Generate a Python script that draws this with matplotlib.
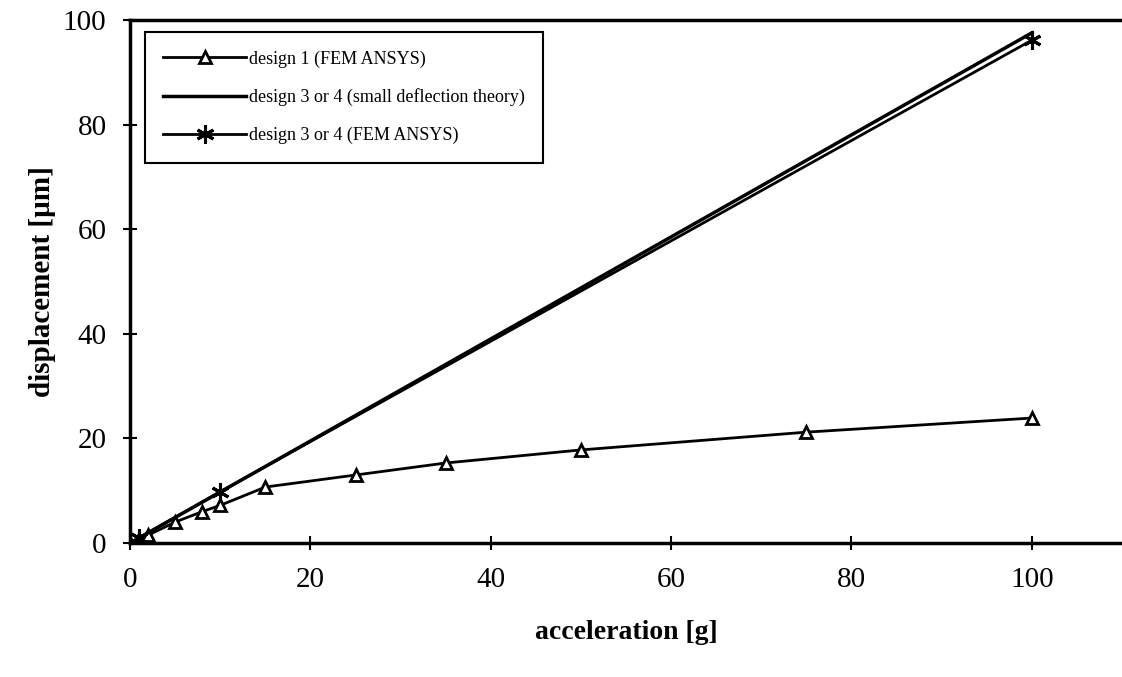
import matplotlib
matplotlib.use("Agg")
import matplotlib.pyplot as plt

# design 1 (FEM ANSYS)
accel_d1 = [0, 1, 2, 5, 8, 10, 15, 25, 35, 50, 75, 100]
disp_d1 = [0, 0.8, 1.5, 4.0, 6.0, 7.2, 10.7, 13.0, 15.3, 17.8, 21.2, 23.9]

# design 3 or 4 (small deflection theory)
accel_theory = [0, 100]
disp_theory = [0, 97.6]

# design 3 or 4 (FEM ANSYS)
accel_d34 = [0, 1, 10, 100]
disp_d34 = [0, 1.0, 9.8, 96.2]

xticks = [0, 20, 40, 60, 80, 100]
yticks = [0, 20, 40, 60, 80, 100]

plt.rcParams["font.family"] = ["Liberation Serif", "DejaVu Serif"]

fig = plt.figure(figsize=(11.22, 6.77), dpi=100)
ax = fig.add_axes([0.116, 0.198, 0.884, 0.772])

ax.plot(accel_d1, disp_d1, color="black", lw=2, marker="^", ms=9,
        mfc="white", mec="black", mew=2, label="design 1 (FEM ANSYS)")
ax.plot(accel_theory, disp_theory, color="black", lw=2.5,
        label="design 3 or 4 (small deflection theory)")
ax.plot(accel_d34, disp_d34, color="black", lw=2, marker=(6, 2, 0), ms=13,
        mew=2.2, label="design 3 or 4 (FEM ANSYS)")

ax.set_xlim(0, 110)
ax.set_ylim(0, 100)
ax.set_xticks(xticks)
ax.set_yticks(yticks)
ax.tick_params(direction="inout", length=10, width=1.5, labelsize=21, pad=12)
for s in ["left", "bottom", "top"]:
    ax.spines[s].set_linewidth(2.5)
ax.spines["right"].set_visible(False)

ax.set_xlabel("acceleration [g]", fontsize=20, fontweight="bold", labelpad=20)
ax.set_ylabel("displacement [\u00b5m]", fontsize=21, fontweight="bold", labelpad=5)

leg = ax.legend(loc="upper left", bbox_to_anchor=(0.015, 0.977), borderaxespad=0,
                fancybox=False, edgecolor="black", framealpha=1,
                handlelength=4.6, handletextpad=0.15, labelspacing=1.15,
                borderpad=1.0, prop={"size": 13})
leg.get_frame().set_linewidth(1.5)

fig.savefig("out.png", dpi=100)
